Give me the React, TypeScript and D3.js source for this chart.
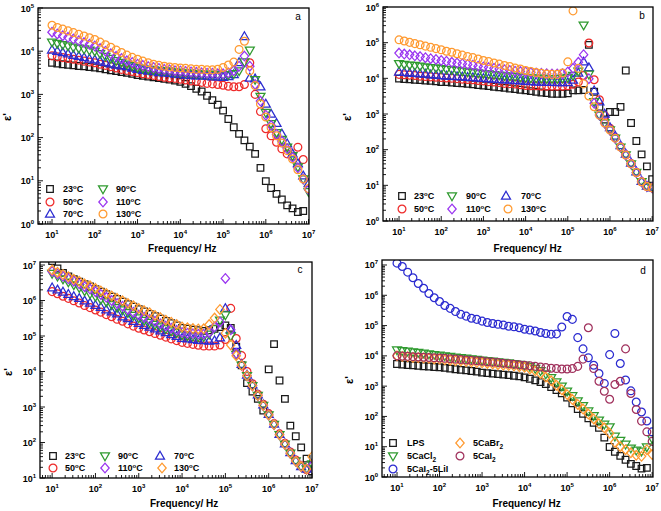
import React from 'react';
import * as d3 from 'd3';

const FONT = "'Liberation Sans', Arial, Helvetica, sans-serif";

// Measurement frequencies (Hz), 8 points per decade
const FREQ = [10, 13.3, 17.8, 23.7, 31.6, 42.2, 56.2, 75, 100,
  133, 178, 237, 316, 422, 562, 750, 1000,
  1330, 1780, 2370, 3160, 4220, 5620, 7500, 1e4,
  13300, 17800, 23700, 31600, 42200, 56200, 75000, 1e5,
  133000, 178000, 237000, 316000, 422000, 562000, 750000, 1e6,
  1.33e6, 1.78e6, 2.37e6, 3.16e6, 4.22e6, 5.62e6, 7.5e6, 1e7];

// Panel a
const A_23 = [5400,5200,5000,4850,4700,4550,4450,4300,4200, 4000,3800,3600,3450,3300,3150,3000,2800, 2700,2600,2500,2400,2300,2200,2100,1950, 1750,1550,1350,1170,930,740,575,420, 270,174,122,86,62,42,20,9.8, 6.8,5.0,3.7,2.7,2.3,1.9,2.0,null];
const A_50 = [7800,7400,7100,6800,6500,6200,5900,5600,5400, 5000,4700,4400,4100,3800,3600,3400,3200, 3000,2900,2750,2600,2500,2400,2350,2240, 2150,2050,2000,1900,1800,1750,1700,1630, 1550,1500,1500,1700,5400,1000,400,160, 110,78,55,42,37,60,31,null];
const A_70 = [10700,10000,9300,8700,8100,7600,7100,6600,6300, 5900,5500,5100,4800,4600,4400,4100,3800, 3600,3500,3400,3200,3150,3100,2950,2900, 2800,2750,2700,2700,2650,2550,2550,2500, 2600,2900,5500,22000,2400,2300,1500,600, 350,215,122,72,42,25,13,8.6];
const A_90 = [16200,15100,14100,13200,12300,11700,11200,10500,10000, 8700,7600,6800,6000,5500,5000,4600,4200, 4000,3800,3700,3600,3550,3450,3300,3200, 3150,3100,3000,2950,2950,2900,2900,2800, 2850,3000,3500,5600,10500,2200,900,380, 210,130,90,60,38,21,11,5.6];
const A_110 = [27500,25100,22900,20900,19100,17400,15800,14500,13200, 11500,10000,8700,7600,6800,6000,5500,5000, 4700,4400,4200,4000,3800,3700,3550,3500, 3400,3300,3250,3150,3100,3100,3000,3000, 3150,3550,4500,7700,4500,1700,700,330, 190,120,83,55,35,20,11,6.3];
const A_130 = [39800,35500,32400,29500,26900,24500,22400,20400,18600, 16200,14100,12300,10700,9300,8100,7200,6500, 5900,5400,5000,4700,4500,4300,4200,4100, 4000,3900,3800,3800,3700,3700,3800,4200, 4800,5600,11000,17000,3500,1600,600,300, 170,110,75,50,32,18,11,6.6];

// Panel b
const B_23 = [9800,9600,9400,9100,8900,8700,8500,8200,7900, 7800,7600,7400,7200,7000,6800,6500,6300, 6100,5800,5600,5400,5200,5000,4800,4600, 4400,4200,4000,3850,3700,3700,3700,3800, 4600,4600,4700,87000,4200,1600,700,1140, 1140,1580,16600,560,175,74,34,15];
const B_50 = [12900,12600,12300,12000,11500,11200,11000,10700,10500, 10200,10000,9800,9500,9300,9100,8700,8500, 8100,7900,7600,7200,7100,6900,6600,6300, 6200,6200,6000,6000,6000,6000,6000,6200, 6800,7900,12000,98000,9100,2500,900,400, 220,120,72,41,23,12.6,9.3,8.5];
const B_70 = [15100,14800,14100,13800,13500,13200,12600,12300,12000, 11700,11500,11200,11000,10700,10500,10200,10000, 9800,9500,9300,9100,8900,8700,8500,8300, 8100,7900,7900,7800,7800,7600,7600,7600, 8900,14100,29000,20000,4500,2200,1000,420, 240,130,75,42,24,13,9.5,8.6];
const B_90 = [25700,24500,23400,22900,21900,20900,20000,19500,18600, 17800,17400,16600,15800,15100,14800,14100,13500, 13200,12600,12300,11700,11500,11200,10700,10500, 10200,10000,10000,9800,9800,9800,10000,10500, 12000,15800,310000,13000,2200,930,560,355, 210,118,71,40,23,12.6,9.3,8.5];
const B_110 = [51000,48000,45700,42700,40700,38000,35500,33900,31600, 30200,28200,26900,25700,24500,23400,21900,20900, 20000,19100,18200,17400,16600,15800,15500,15100, 14500,14100,13800,13500,13200,13200,13500,15100, 19100,28200,46000,9800,2000,930,560,355, 210,118,71,40,23,12.6,9.3,8.5];
const B_130 = [120000,111000,102000,94000,87000,80000,74000,68000,63000, 57500,53700,49000,44700,40700,38000,34700,31600, 29500,26900,25100,22900,21400,19500,18200,16600, 15500,14500,13800,13200,12900,12900,14100,29000, 780000,19000,7000,3200,1600,930,560,355, 210,118,71,40,23,12.6,9.3,8.5];

// Panel c
const C_23 = [1.3e7,8e6,6e6,4.8e6,4.0e6,3.4e6,2.9e6,2.5e6,2.1e6, 1.78e6,1.5e6,1.28e6,1.1e6,9.3e5,7.9e5,6.7e5,5.7e5, 4.9e5,4.2e5,3.6e5,3.1e5,2.65e5,2.3e5,2.0e5,1.7e5, 1.6e5,1.5e5,1.45e5,1.4e5,1.45e5,1.6e5,1.8e5,2.0e5, 1.7e5,50000,15000,4700,2700,1700,800,11500, 59000,5600,1700,300,150,73,35,15.5];
const C_50 = [1.78e6,1.55e6,1.32e6,1.15e6,9.8e5,8.5e5,7.2e5,6.3e5,5.4e5, 4.7e5,4.0e5,3.5e5,2.95e5,2.6e5,2.2e5,1.9e5,1.66e5, 1.48e5,1.32e5,1.17e5,1.05e5,9.3e4,8.3e4,7.4e4,6.6e4, 6.2e4,5.8e4,5.5e4,5.2e4,5.2e4,5.2e4,5.6e4,8e4, 6.0e5,85000,28000,10000,4500,2300,1200,650, 340,175,95,54,32,22,17,22];
const C_70 = [2.3e6,2.0e6,1.74e6,1.5e6,1.3e6,1.15e6,9.8e5,8.5e5,7.4e5, 6.5e5,5.5e5,4.8e5,4.2e5,3.5e5,3.1e5,2.6e5,2.3e5, 2.0e5,1.8e5,1.6e5,1.4e5,1.26e5,1.1e5,9.8e4,8.7e4, 8.3e4,7.9e4,7.6e4,7.4e4,7.2e4,7.4e4,8.9e4,6.0e5, 1.5e5,55000,16000,8000,4200,2200,1150,620, 330,170,92,52,31,21,18,25];
const C_90 = [5.75e6,4.8e6,4.0e6,3.3e6,2.75e6,2.3e6,1.86e6,1.55e6,1.29e6, 1.07e6,9.1e5,7.6e5,6.3e5,5.4e5,4.5e5,3.8e5,3.2e5, 2.75e5,2.4e5,2.1e5,1.8e5,1.6e5,1.38e5,1.23e5,1.07e5, 1.02e5,9.8e4,9.5e4,9.5e4,1.12e5,1.6e5,2.8e5,3.9e5, 1.0e5,30000,15000,7600,4000,2100,1100,600, 320,166,89,50,30,21,18,25];
const C_110 = [6.6e6,5.6e6,4.8e6,4.1e6,3.5e6,2.95e6,2.45e6,2.1e6,1.78e6, 1.48e6,1.23e6,1.0e6,8.3e5,6.9e5,5.6e5,4.7e5,3.9e5, 3.4e5,2.95e5,2.6e5,2.2e5,1.9e5,1.66e5,1.45e5,1.26e5, 1.2e5,1.15e5,1.12e5,1.12e5,1.26e5,1.8e5,2.5e5,4.2e6, 1.5e5,32000,15000,7600,4000,2100,1100,600, 320,166,89,50,30,21,18,22];
const C_130 = [7.2e6,6.3e6,5.4e6,4.7e6,4.0e6,3.5e6,2.95e6,2.6e6,2.2e6, 1.86e6,1.58e6,1.35e6,1.15e6,9.8e5,8.3e5,7.1e5,6.0e5, 5.2e5,4.5e5,3.8e5,3.3e5,2.8e5,2.45e5,2.1e5,1.8e5, 1.7e5,1.62e5,1.58e5,1.6e5,2.1e5,3.2e5,5.6e5,1.2e5, 56000,28000,15000,7600,4000,2100,1100,600, 320,166,89,50,30,21,18,40];

// Panel d
const D_LPS = [5400,5200,5000,4850,4700,4550,4450,4300,4200, 4000,3800,3600,3450,3300,3150,3000,2800, 2700,2600,2500,2400,2300,2200,2100,1950, 1750,1550,1350,1170,930,740,575,420, 270,174,122,86,62,42,20,9.8, 6.8,5.0,3.7,2.7,2.3,1.9,2.0,null];
const D_CACL2 = [15500,14800,14100,13500,12900,12300,11500,11000,10500, 10000,9500,9100,8700,8300,7900,7600,7200, 6900,6600,6300,6000,5800,5500,5200,4900, 4400,3800,3200,2500,1900,1380,1000,680, 480,325,225,150,105,75,55,45, 22,16,12,9,7.6,7.1,9.8,18.5];
const D_LII = [1.15e7,8.9e6,5.8e6,3.8e6,2.45e6,1.7e6,1.15e6,8.3e5,6.2e5, 4.6e5,3.7e5,2.9e5,2.35e5,2.05e5,1.75e5,1.6e5,1.4e5, 1.26e5,1.17e5,1.1e5,1.05e5,9.5e4,9.1e4,8.5e4,7.6e4, 7.1e4,6.6e4,5.9e4,5.5e4,5.2e4,5.3e4,9e4,2e5, 1.6e5,4e4,1.7e4,8.7e3,4.9e3,2.6e3,1.23e3,1.1e4, 5.5e4,5.6e3,1.6e3,700,300,140,71,31];
const D_CABR2 = [10000,9500,9300,8900,8700,8500,8300,7900,7800, 7400,7200,6900,6800,6500,6300,6000,5900, 5600,5400,5100,4900,4800,4600,4400,4200, 3700,3200,2600,2000,1500,1070,760,525, 360,250,175,120,83,58,42,28, 14,10,8,6.3,5.2,4.8,8,5.5];
const D_CAI2 = [10000,9800,9600,9400,9200,9000,8800,8600,8500, 8300,8000,7800,7600,7300,7100,6900,6700, 6400,6200,6000,5700,5500,5300,5100,4900, 4700,4500,4300,4100,3900,3800,3700,3700, 3800,4500,7800,85000,3800,1450,680,370, 1130,1450,17000,570,170,70,31,15];

const TEMPS = ['23', '50', '70', '90', '110', '130'];

const COL = {
  black: '#1a1a1a', red: '#ee2a2a', blue: '#2b2bd0', green: '#2f9a2f',
  purple: '#9a35f0', orange: '#ff9a30', brown: '#a0305c',
};

type Shape = 'square' | 'circle' | 'up' | 'down' | 'diamond';

function shapePath(shape: Shape): string {
  switch (shape) {
    case 'square': return 'M-3.3,-3.3H3.3V3.3H-3.3Z';
    case 'circle': return 'M3.9,0A3.9,3.9 0 1,1 -3.9,0A3.9,3.9 0 1,1 3.9,0Z';
    case 'up': return 'M0,-4.7L4.5,3.1L-4.5,3.1Z';
    case 'down': return 'M0,4.7L4.5,-3.1L-4.5,-3.1Z';
    case 'diamond': return 'M0,-4.8L4.2,0L0,4.8L-4.2,0Z';
  }
  return '';
}

type Series = { values: (number | null)[]; color: string; shape: Shape };
type LegendItem = { s: Series; mx: number; my: number; tx: number; label: React.ReactNode };

type PanelProps = {
  id: string;
  x0: number; x1: number; y0: number; y1: number;
  xLog: [number, number]; yLog: [number, number];
  yLabels: number[];
  series: Series[];
  legend: LegendItem[];
  letter: { t: string; x: number; y: number };
  yTitle: { x: number; y: number };
  xTitleY: number;
};

function Deg({ t }: { t: string }) {
  return <>{t}<tspan dy={-3.5} fontSize={6}>o</tspan><tspan dy={3.5}>C</tspan></>;
}

function logTicks(lo: number, hi: number) {
  const out: { v: number; major: boolean }[] = [];
  for (let k = Math.floor(lo); k <= Math.ceil(hi); k++) {
    for (let m = 1; m <= 9; m++) {
      const v = m * 10 ** k;
      const lv = Math.log10(v);
      if (lv >= lo - 1e-9 && lv <= hi + 1e-9) out.push({ v, major: m === 1 });
    }
  }
  return out;
}

function Panel(p: PanelProps) {
  const xs = d3.scaleLog().domain([10 ** p.xLog[0], 10 ** p.xLog[1]]).range([p.x0, p.x1]);
  const ys = d3.scaleLog().domain([10 ** p.yLog[0], 10 ** p.yLog[1]]).range([p.y1, p.y0]);
  const xTicks = logTicks(p.xLog[0], p.xLog[1]);
  const yTicks = logTicks(p.yLog[0], p.yLog[1]);
  const xDec = [1, 2, 3, 4, 5, 6, 7];
  const xMid = (xs(10) + xs(1e7)) / 2 + 2;
  return (
    <g>
      <defs>
        <clipPath id={`clip-${p.id}`}>
          <rect x={p.x0} y={p.y0} width={p.x1 - p.x0} height={p.y1 - p.y0} />
        </clipPath>
      </defs>
      <g clipPath={`url(#clip-${p.id})`}>
        {p.series.map((s, si) => (
          <g key={si} fill="none" stroke={s.color} strokeWidth={1.25}>
            {s.values.map((v, i) => (v == null ? null :
              <path key={i} d={shapePath(s.shape)} transform={`translate(${xs(FREQ[i]).toFixed(2)},${ys(v).toFixed(2)})`} />
            ))}
          </g>
        ))}
      </g>
      <rect x={p.x0} y={p.y0} width={p.x1 - p.x0} height={p.y1 - p.y0} fill="none" stroke="#000" strokeWidth={1.3} />
      <g stroke="#000" strokeWidth={0.9}>
        {xTicks.map((t, i) => {
          const x = xs(t.v);
          return <line key={i} x1={x} x2={x} y1={p.y1} y2={p.y1 - (t.major ? 5 : 3)} />;
        })}
        {yTicks.map((t, i) => {
          const y = ys(t.v);
          return <line key={i} x1={p.x0} x2={p.x0 + (t.major ? 5 : 3)} y1={y} y2={y} />;
        })}
      </g>
      <g fontFamily={FONT} fontWeight="bold" fontSize={9} fill="#000">
        {xDec.map((k) => (
          <text key={k} x={xs(10 ** k)} y={p.y1 + 14} textAnchor="middle">
            10<tspan dy={-4} fontSize={6}>{k}</tspan>
          </text>
        ))}
        {p.yLabels.map((k) => (
          <text key={k} x={p.x0 - 4} y={ys(10 ** k) + 3.5} textAnchor="end">
            10<tspan dy={-4} fontSize={6}>{k}</tspan>
          </text>
        ))}
      </g>
      <text x={xMid} y={p.xTitleY} textAnchor="middle" fontFamily={FONT} fontWeight="bold" fontSize={10}>Frequency/ Hz</text>
      <text transform={`translate(${p.yTitle.x},${p.yTitle.y}) rotate(-90)`} textAnchor="middle" fontFamily={FONT} fontWeight="bold" fontSize={11}>ε'</text>
      <text x={p.letter.x} y={p.letter.y} textAnchor="middle" fontFamily={FONT} fontSize={10}>{p.letter.t}</text>
      {p.legend.map((it, i) => (
        <g key={i}>
          <path d={shapePath(it.s.shape)} transform={`translate(${it.mx},${it.my})`} fill="none" stroke={it.s.color} strokeWidth={1.25} />
          <text x={it.tx} y={it.my + 3.3} fontFamily={FONT} fontWeight="bold" fontSize={9}>{it.label}</text>
        </g>
      ))}
    </g>
  );
}

export default function App() {
  const sa: Series[] = [
    { values: A_23, color: COL.black, shape: 'square' },
    { values: A_50, color: COL.red, shape: 'circle' },
    { values: A_70, color: COL.blue, shape: 'up' },
    { values: A_90, color: COL.green, shape: 'down' },
    { values: A_110, color: COL.purple, shape: 'diamond' },
    { values: A_130, color: COL.orange, shape: 'circle' },
  ];
  const sb: Series[] = [
    { values: B_23, color: COL.black, shape: 'square' },
    { values: B_50, color: COL.red, shape: 'circle' },
    { values: B_70, color: COL.blue, shape: 'up' },
    { values: B_90, color: COL.green, shape: 'down' },
    { values: B_110, color: COL.purple, shape: 'diamond' },
    { values: B_130, color: COL.orange, shape: 'circle' },
  ];
  const sc: Series[] = [
    { values: C_23, color: COL.black, shape: 'square' },
    { values: C_50, color: COL.red, shape: 'circle' },
    { values: C_70, color: COL.blue, shape: 'up' },
    { values: C_90, color: COL.green, shape: 'down' },
    { values: C_110, color: COL.purple, shape: 'diamond' },
    { values: C_130, color: COL.orange, shape: 'diamond' },
  ];
  const sd: Series[] = [
    { values: D_LPS, color: COL.black, shape: 'square' },
    { values: D_CACL2, color: COL.green, shape: 'down' },
    { values: D_LII, color: COL.blue, shape: 'circle' },
    { values: D_CABR2, color: COL.orange, shape: 'diamond' },
    { values: D_CAI2, color: COL.brown, shape: 'circle' },
  ];
  const T = TEMPS;
  const legA: LegendItem[] = [
    { s: sa[0], mx: 50, my: 189, tx: 63, label: <Deg t={T[0]} /> },
    { s: sa[1], mx: 50, my: 202, tx: 63, label: <Deg t={T[1]} /> },
    { s: sa[2], mx: 50, my: 214, tx: 63, label: <Deg t={T[2]} /> },
    { s: sa[3], mx: 103, my: 189, tx: 116, label: <Deg t={T[3]} /> },
    { s: sa[4], mx: 103, my: 202, tx: 116, label: <Deg t={T[4]} /> },
    { s: sa[5], mx: 103, my: 214, tx: 116, label: <Deg t={T[5]} /> },
  ];
  const legB: LegendItem[] = [
    { s: sb[0], mx: 402, my: 196, tx: 414, label: <Deg t={T[0]} /> },
    { s: sb[3], mx: 452, my: 196, tx: 466, label: <Deg t={T[3]} /> },
    { s: sb[2], mx: 506, my: 196, tx: 521, label: <Deg t={T[2]} /> },
    { s: sb[1], mx: 402, my: 209, tx: 414, label: <Deg t={T[1]} /> },
    { s: sb[4], mx: 452, my: 209, tx: 466, label: <Deg t={T[4]} /> },
    { s: sb[5], mx: 508, my: 209, tx: 521, label: <Deg t={T[5]} /> },
  ];
  const legC: LegendItem[] = [
    { s: sc[0], mx: 53, my: 456, tx: 65, label: <Deg t={T[0]} /> },
    { s: sc[3], mx: 105, my: 456, tx: 118, label: <Deg t={T[3]} /> },
    { s: sc[2], mx: 160, my: 456, tx: 174, label: <Deg t={T[2]} /> },
    { s: sc[1], mx: 53, my: 468, tx: 65, label: <Deg t={T[1]} /> },
    { s: sc[4], mx: 105, my: 468, tx: 118, label: <Deg t={T[4]} /> },
    { s: sc[5], mx: 162, my: 468, tx: 174, label: <Deg t={T[5]} /> },
  ];
  const sub2 = (a: string, b = '') => <>{a}<tspan dy={2.5} fontSize={6.5}>2</tspan><tspan dy={-2.5}>{b}</tspan></>;
  const legD: LegendItem[] = [
    { s: sd[0], mx: 393, my: 443, tx: 407, label: 'LPS' },
    { s: sd[1], mx: 393, my: 456, tx: 407, label: sub2('5CaCl') },
    { s: sd[2], mx: 393, my: 469, tx: 407, label: sub2('5CaI', '-5LiI') },
    { s: sd[3], mx: 460, my: 443, tx: 473, label: sub2('5CaBr') },
    { s: sd[4], mx: 460, my: 456, tx: 473, label: sub2('5CaI') },
  ];
  return (
    <svg width={661} height={511} style={{ position: 'absolute', left: 0, top: 0, background: '#fff' }}>
      <rect width={661} height={511} fill="#fff" />
      <Panel id="a" x0={38} x1={309} y0={8} y1={224} xLog={[0.672, 7.01]} yLog={[0, 5]}
        yLabels={[0, 1, 2, 3, 4, 5]} series={sa} legend={legA}
        letter={{ t: 'a', x: 298, y: 20 }} yTitle={{ x: 11, y: 117 }} xTitleY={252} />
      <Panel id="b" x0={383} x1={653} y0={7} y1={221} xLog={[0.62, 7.02]} yLog={[0, 6]}
        yLabels={[0, 1, 2, 3, 4, 5, 6]} series={sb} legend={legB}
        letter={{ t: 'b', x: 642, y: 19 }} yTitle={{ x: 351, y: 117 }} xTitleY={252} />
      <Panel id="c" x0={40} x1={312} y0={262} y1={478} xLog={[0.72, 7.0]} yLog={[1, 7.085]}
        yLabels={[1, 2, 3, 4, 5, 6, 7]} series={sc} legend={legC}
        letter={{ t: 'c', x: 300, y: 273 }} yTitle={{ x: 12, y: 372 }} xTitleY={507} />
      <Panel id="d" x0={382} x1={653} y0={260} y1={477} xLog={[0.647, 7.02]} yLog={[0, 7.165]}
        yLabels={[0, 1, 2, 3, 4, 5, 6, 7]} series={sd} legend={legD}
        letter={{ t: 'd', x: 643, y: 274 }} yTitle={{ x: 353, y: 380 }} xTitleY={507} />
    </svg>
  );
}
